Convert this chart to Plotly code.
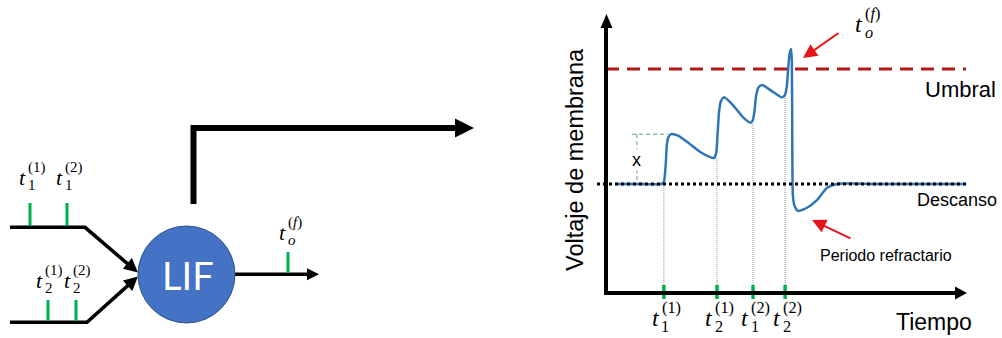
import math
import plotly.graph_objects as go

W, H = 1002, 338

# ---------------- data: membrane potential trace (time in ms, voltage in mV) -------------
trace_t = [4, 12, 18.5, 19.3, 19.7, 20.0, 20.3, 20.8, 21.7, 24.0, 27.0, 31.3, 34.7, 36.0,
           36.7, 37.2, 37.7, 38.3, 39.3, 42.3, 45.7, 48.2, 48.9, 49.5, 50.0, 50.8, 52.0,
           55.7, 58.6, 59.5, 60.2, 60.7, 61.2, 61.7, 61.95, 62.1, 62.3, 62.8, 64.0, 67.0,
           70.3, 73.7, 77.0, 90, 120]
trace_v = [-70, -70, -70, -69.7, -68.5, -66.9, -64.8, -63.9, -63.5, -63.7, -64.5, -65.8, -66.5, -66.6,
           -66.0, -63.5, -60.5, -59.2, -58.7, -59.7, -61.3, -62.0, -61.7, -60.5, -58.6, -57.4, -57.1,
           -58.0, -58.7, -58.5, -57.5, -55.1, -53.0, -52.4, -54.0, -65.0, -71.5, -72.8, -73.5, -73.1,
           -72.1, -70.5, -70, -70, -70]

rest_v = -70.0
threshold_v = -55.0
line_t = [0, 120]
rest_t = [-3, 120]

# input spike times on the time axis and the voltage reached just before each one
spike_times = [19.3, 37.0, 49.0, 59.7]
spike_levels = [-70.0, -66.6, -62.0, -58.7]
spike_subs = ["1", "2", "1", "2"]
spike_sups = ["(1)", "(1)", "(2)", "(2)"]

# "x" amplitude indicator (first PSP)
x_marker_t = [8.7, 20.7]
x_marker_vt = 10.3
x_peak_v = -63.5

# left diagram: spike positions along each input / output line (diagram pixels)
input1_spikes = [30, 67]
input2_spikes = [48, 76]
output_spikes = [288]
input1_labels = [("1", "(1)"), ("1", "(2)")]
input2_labels = [("2", "(1)"), ("2", "(2)")]

# ---------------- geometry of the right-hand chart --------------------------------------
T0_PX = 606.0        # pixel x of t = 0
PX_PER_MS = 3.0
REST_PX = 184.0      # pixel y of rest potential
PX_PER_MV = 115.0 / 15.0


def t_of(px):
    return (px - T0_PX) / PX_PER_MS


def v_of(py):
    return rest_v + (REST_PX - py) / PX_PER_MV


X2_PX = (590, 970)
Y2_PX = (300, 10)

GREEN = "#00B050"
BLUE = "#2E75B6"
RED = "#E8141B"
DARKRED = "#B01818"

fig = go.Figure()

# threshold (under the curve)
fig.add_trace(go.Scatter(x=line_t, y=[threshold_v] * 2, xaxis="x2", yaxis="y2", mode="lines",
                         line=dict(color=DARKRED, width=3, dash="13px,8px"), hoverinfo="skip"))

# grey dotted guides from the time axis up to the curve
for ts, lv in zip(spike_times, spike_levels):
    fig.add_trace(go.Scatter(x=[ts, ts], y=[v_of(293), lv], xaxis="x2", yaxis="y2", mode="lines",
                             line=dict(color="#8C8C8C", width=1, dash="1px,1px"), hoverinfo="skip"))

# x indicator
fig.add_trace(go.Scatter(x=x_marker_t, y=[x_peak_v] * 2, xaxis="x2", yaxis="y2", mode="lines",
                         line=dict(color="#5E9C76", width=1, dash="4px,3px"), hoverinfo="skip"))
fig.add_trace(go.Scatter(x=[x_marker_vt] * 2, y=[x_peak_v, v_of(180)], xaxis="x2", yaxis="y2",
                         mode="lines", line=dict(color="#5E9C76", width=1, dash="4px,3px"),
                         hoverinfo="skip"))

# membrane potential
fig.add_trace(go.Scatter(x=trace_t, y=trace_v, xaxis="x2", yaxis="y2", mode="lines",
                         line=dict(color=BLUE, width=2.5, shape="spline", smoothing=0.6),
                         hoverinfo="skip"))

# rest line (over the curve)
fig.add_trace(go.Scatter(x=rest_t, y=[rest_v] * 2, xaxis="x2", yaxis="y2", mode="lines",
                         line=dict(color="black", width=3, dash="3px,3px"), hoverinfo="skip"))

# ---------------- shapes ---------------------------------------------------------------
shapes = []


def seg(x0, y0, x1, y1, color="black", width=3.5):
    shapes.append(dict(type="line", xref="x", yref="y", x0=x0, y0=y0, x1=x1, y1=y1,
                       line=dict(color=color, width=width), layer="above"))


def head(tipx, tipy, fromx, fromy, length, half, color="black"):
    dx, dy = tipx - fromx, tipy - fromy
    n = math.hypot(dx, dy)
    ux, uy = dx / n, dy / n
    bx, by = tipx - ux * length, tipy - uy * length
    px, py = -uy, ux
    p = (f"M{tipx:.1f},{tipy:.1f} L{bx + px * half:.1f},{by + py * half:.1f} "
         f"L{bx - px * half:.1f},{by - py * half:.1f} Z")
    shapes.append(dict(type="path", xref="x", yref="y", path=p, fillcolor=color,
                       line=dict(color=color, width=0), layer="above"))
    return bx, by


# chart axes
seg(606, 295, 606, 26, width=4)
head(606.5, 14, 606.5, 100, 14, 6)
seg(604, 293, 957, 293, width=4)
head(967, 293, 900, 293, 12, 6.5)

# big L arrow
shapes.append(dict(type="path", xref="x", yref="y", path="M193.5,204 L193.5,128 L457,128",
                   line=dict(color="black", width=6), layer="above"))
head(474, 128, 400, 128, 19, 9.5)

# input 1
bx, by = head(138, 272.5, 85, 227.3, 14, 7)
shapes.append(dict(type="path", xref="x", yref="y",
                   path=f"M10,227.3 L85,227.3 L{bx + 1:.1f},{by + 1:.1f}",
                   line=dict(color="black", width=3.5), layer="above"))
# input 2
bx, by = head(138, 276.5, 87, 322.3, 14, 7)
shapes.append(dict(type="path", xref="x", yref="y",
                   path=f"M10,322.3 L87,322.3 L{bx + 1:.1f},{by - 1:.1f}",
                   line=dict(color="black", width=3.5), layer="above"))
# output
seg(234, 274.3, 309, 274.3)
head(319, 274.3, 250, 274.3, 12, 6)

# LIF neuron
shapes.append(dict(type="circle", xref="x", yref="y", x0=138, x1=235, y0=226, y1=323,
                   fillcolor="#4472C4", line=dict(color="#2F528F", width=1), layer="above"))

# green spike ticks on the diagram
for sx in input1_spikes:
    seg(sx, 203, sx, 226, color=GREEN, width=3)
for sx in input2_spikes:
    seg(sx, 300, sx, 321, color=GREEN, width=3)
for sx in output_spikes:
    seg(sx, 252, sx, 273, color=GREEN, width=3)

# ---------------- annotations -----------------------------------------------------------
ann = []
SERIF = "Liberation Serif, DejaVu Serif, serif"
SANS = "Liberation Sans, Arial, sans-serif"


def text(x, y, s, size, color="black", family=SANS, angle=0, xref="x", yref="y", **kw):
    d = dict(x=x, y=y, xref=xref, yref=yref, text=s, showarrow=False,
             font=dict(size=size, color=color, family=family), textangle=angle,
             xanchor="center", yanchor="middle")
    d.update(kw)
    ann.append(d)


def mlabel(cx, cy, sub, sup, size):
    s2 = size * 0.68
    text(cx - 9, cy, "<i>t</i>", size, family=SERIF)
    text(cx - 5, cy - size * 0.42, sup, s2, family=SERIF, xanchor="left")
    text(cx - 5.5, cy + size * 0.36, sub, s2, family=SERIF, xanchor="left")


for sx, (sb, sp) in zip(input1_spikes, input1_labels):
    mlabel(sx + 1, 177, sb, sp, 22)
for sx, (sb, sp) in zip(input2_spikes, input2_labels):
    mlabel(sx, 280, sb, sp, 22)
mlabel(291, 232, "<i>o</i>", "(<i>f</i>)", 22)

text(188, 275, "LIF", 38, color="white", family="Lato, Open Sans, sans-serif")

# spike markers on time axis and their labels
fig.add_trace(go.Scatter(x=spike_times, y=[v_of(292)] * 4, xaxis="x2", yaxis="y2", mode="markers",
                         marker=dict(symbol="line-ns", size=10, line=dict(color=GREEN, width=3.5)),
                         cliponaxis=False, hoverinfo="skip"))
for ts, sb, sp in zip(spike_times, spike_subs, spike_sups):
    cx = T0_PX + ts * PX_PER_MS
    mlabel(cx + 1, 318, sb, sp, 24)

mlabel(868, 24, "<i>o</i>", "(<i>f</i>)", 24)

text(x_marker_vt, v_of(160), "x", 18, xref="x2", yref="y2", bgcolor="white", borderpad=0)

text(575, 160, "Voltaje de membrana", 23.5, angle=-90)
text(960, 89, "Umbral", 22)
text(957, 200, "Descanso", 18)
text(886, 255, "Periodo refractario", 16)
text(934, 322, "Tiempo", 23)

# red arrows
for (tx, ty), (fx, fy) in [((803, 58), (840, 32)), ((812, 220), (852, 239))]:
    ann.append(dict(x=tx, y=ty, ax=fx, ay=fy, xref="x", yref="y", axref="x", ayref="y",
                    text="", showarrow=True, arrowhead=2, arrowsize=1.4, arrowwidth=2,
                    arrowcolor=RED))

fig.update_layout(
    width=W, height=H, margin=dict(l=0, r=0, t=0, b=0),
    paper_bgcolor="white", plot_bgcolor="rgba(0,0,0,0)", showlegend=False,
    xaxis=dict(domain=[0, 1], range=[0, W], visible=False, fixedrange=True),
    yaxis=dict(domain=[0, 1], range=[H, 0], visible=False, fixedrange=True),
    xaxis2=dict(domain=[X2_PX[0] / W, X2_PX[1] / W], range=[t_of(X2_PX[0]), t_of(X2_PX[1])],
                anchor="y2", visible=False, fixedrange=True),
    yaxis2=dict(domain=[1 - Y2_PX[0] / H, 1 - Y2_PX[1] / H], range=[v_of(Y2_PX[0]), v_of(Y2_PX[1])],
                anchor="x2", visible=False, fixedrange=True),
    shapes=shapes, annotations=ann,
)

fig.write_html("out.html", config={"displayModeBar": False},
               post_script="document.body.style.margin='0px';document.body.style.overflow='hidden';")
